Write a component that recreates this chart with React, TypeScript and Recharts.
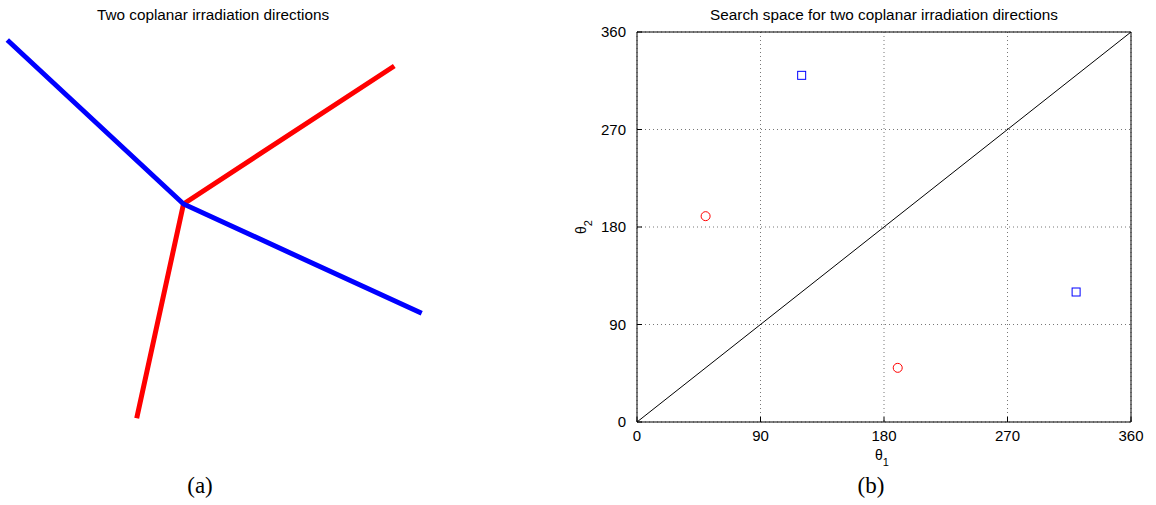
import React from "react";
import {
  CartesianGrid,
  ReferenceLine,
  Scatter,
  ScatterChart,
  XAxis,
  YAxis,
} from "recharts";

// panel (a): beam end points, center of the two beams at (0, 0)
const redBeam = [
  { x: 2.108, y: 1.38 },
  { x: 0, y: 0 },
  { x: -0.468, y: -2.143 },
];
const blueBeam = [
  { x: -1.762, y: 1.64 },
  { x: 0, y: 0 },
  { x: 2.382, y: -1.093 },
];

// panel (b): search space (theta1, theta2) in degrees
const redPoints = [
  { t1: 50, t2: 190 },
  { t1: 190, t2: 50 },
];
const bluePoints = [
  { t1: 120, t2: 320 },
  { t1: 320, t2: 120 },
];
const angleTicks = [0, 90, 180, 270, 360];
const diagonal = [
  { x: 0, y: 0 },
  { x: 360, y: 360 },
];

const sans = "'Liberation Sans', Arial, Helvetica, sans-serif";
const serif = "'Liberation Serif', 'DejaVu Serif', serif";

const NoDot = () => <g />;

const Circle = ({ cx, cy }: any) => (
  <circle cx={cx} cy={cy} r={4.5} fill="none" stroke="#ff0000" strokeWidth={1} />
);

const Square = ({ cx, cy }: any) => (
  <rect x={cx - 4} y={cy - 4} width={8} height={8} fill="none" stroke="#0000ff" strokeWidth={1} />
);

const Theta1Label = ({ viewBox }: any) => {
  const { x, y, width } = viewBox;
  return (
    <text x={x + width / 2 - 2} y={y + 38} textAnchor="middle" fontFamily={sans} fontSize={14} fill="#000">
      θ<tspan dy={6} fontSize={11}>1</tspan>
    </text>
  );
};

const Theta2Label = ({ viewBox }: any) => {
  const { x, y, height } = viewBox;
  const lx = x - 1;
  const ly = y + height / 2;
  return (
    <text x={lx} y={ly} textAnchor="middle" fontFamily={sans} fontSize={14} fill="#000"
      transform={`rotate(-90, ${lx}, ${ly})`}>
      θ<tspan dy={6} fontSize={11}>2</tspan>
    </text>
  );
};

const titleStyle: React.CSSProperties = {
  position: "absolute",
  fontFamily: sans,
  fontSize: 15.3,
  color: "#000",
  whiteSpace: "nowrap",
  transform: "translateX(-50%)",
};

const captionStyle: React.CSSProperties = {
  position: "absolute",
  fontFamily: serif,
  fontSize: 23,
  lineHeight: "26px",
  color: "#000",
  whiteSpace: "nowrap",
  transform: "translateX(-50%)",
};

export default function App() {
  return (
    <div style={{ position: "absolute", left: 0, top: 0, width: 1156, height: 505, background: "#fff" }}>
      <div style={{ ...titleStyle, left: 213, top: 6 }}>Two coplanar irradiation directions</div>
      <div style={{ ...titleStyle, left: 884, top: 6 }}>Search space for two coplanar irradiation directions</div>
      <div style={{ ...captionStyle, left: 200, top: 473 }}>(a)</div>
      <div style={{ ...captionStyle, left: 871, top: 473 }}>(b)</div>

      <div style={{ position: "absolute", left: 0, top: 0 }}>
        <ScatterChart width={440} height={440} margin={{ top: 0, right: 0, bottom: 0, left: 0 }}>
          <XAxis type="number" dataKey="x" domain={[-1.835, 2.565]} hide allowDataOverflow />
          <YAxis type="number" dataKey="y" domain={[-2.36, 2.04]} hide allowDataOverflow />
          <Scatter data={redBeam} line={{ stroke: "#ff0000", strokeWidth: 5 }} shape={NoDot} isAnimationActive={false} />
          <Scatter data={blueBeam} line={{ stroke: "#0000ff", strokeWidth: 5 }} shape={NoDot} isAnimationActive={false} />
        </ScatterChart>
      </div>

      <div style={{ position: "absolute", left: 560, top: 0 }}>
        <ScatterChart width={596} height={505} margin={{ top: 31, right: 24, bottom: 53, left: 27 }}>
          <CartesianGrid stroke="#777" strokeDasharray="1 3" />
          <XAxis type="number" dataKey="t1" domain={[0, 360]} ticks={angleTicks} height={30}
            axisLine={{ stroke: "#000" }} tickLine={{ stroke: "#000" }} tickSize={-5} tickMargin={13}
            tick={{ fill: "#000", fontSize: 15, fontFamily: sans }} label={<Theta1Label />} />
          <XAxis xAxisId="top" orientation="top" type="number" domain={[0, 360]} ticks={angleTicks} height={1}
            axisLine={{ stroke: "#000" }} tickLine={{ stroke: "#000" }} tickSize={-5} tick={false} />
          <YAxis type="number" dataKey="t2" domain={[0, 360]} ticks={angleTicks} width={50}
            axisLine={{ stroke: "#000" }} tickLine={{ stroke: "#000" }} tickSize={-5} tickMargin={16}
            tick={{ fill: "#000", fontSize: 15, fontFamily: sans }} label={<Theta2Label />} />
          <YAxis yAxisId="right" orientation="right" type="number" domain={[0, 360]} ticks={angleTicks} width={1}
            axisLine={{ stroke: "#000" }} tickLine={{ stroke: "#000" }} tickSize={-5} tick={false} />
          <ReferenceLine segment={diagonal} stroke="#000" strokeWidth={1} ifOverflow="visible" />
          <Scatter data={redPoints} shape={Circle} isAnimationActive={false} />
          <Scatter data={bluePoints} shape={Square} isAnimationActive={false} />
        </ScatterChart>
      </div>
    </div>
  );
}
